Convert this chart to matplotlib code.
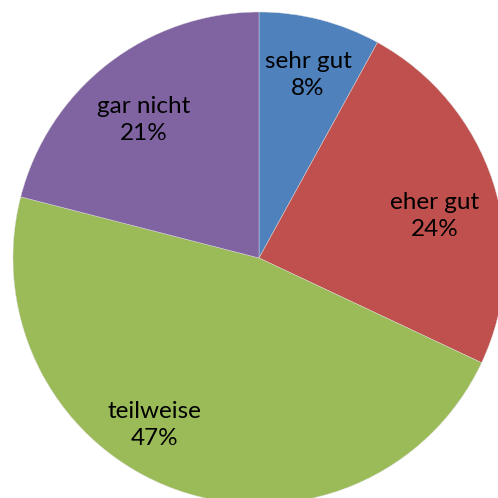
import matplotlib
matplotlib.use("Agg")
import matplotlib.pyplot as plt
import numpy as np

categories = ["sehr gut", "eher gut", "teilweise", "gar nicht"]
values = [8, 24, 47, 21]
colors = ["#4F81BD", "#C0504D", "#9BBB59", "#8064A2"]

plt.rcParams["font.family"] = ["Lato", "DejaVu Sans"]

fig = plt.figure(figsize=(4.98, 4.98), dpi=100)
ax = fig.add_axes([0, 0, 1, 1])

labels = [f"{c}\n{v}%" for c, v in zip(categories, values)]
wedges, texts = ax.pie(values, colors=colors, startangle=90, counterclock=False,
                       labels=labels, labeldistance=0.76, radius=1,
                       wedgeprops=dict(edgecolor="#dddddd", linewidth=0.3),
                       textprops=dict(fontsize=17.5, ha="center", va="center",
                                      linespacing=1.35, color="black"))

# Excel-like "best fit" label placement (angle in degrees, distance)
label_pos = [(75, 0.77), (13.5, 0.735), (-122, 0.80), (130, 0.73)]
for t, (ang, dist) in zip(texts, label_pos):
    a = np.deg2rad(ang)
    t.set_position((dist * np.cos(a), dist * np.sin(a)))
    t.set_ha("center")

ax.set_xlim(-259 / 246, 239 / 246)
ax.set_ylim(-240 / 246, 258 / 246)
ax.set_aspect("equal")
ax.axis("off")

fig.savefig("out.png", dpi=100, facecolor="white")
